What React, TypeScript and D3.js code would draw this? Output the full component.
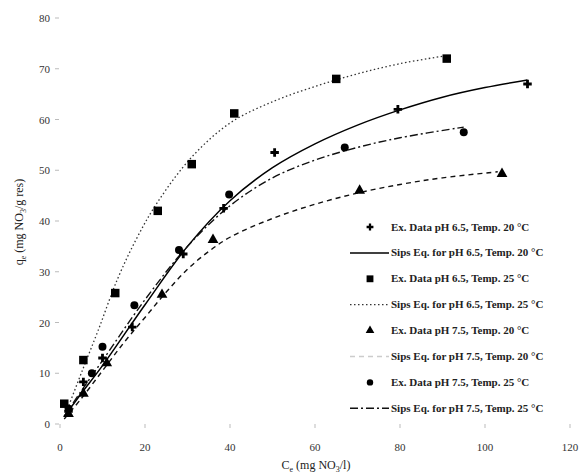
import React, { useEffect, useRef } from 'react';
import * as d3 from 'd3';

const ph65t20X = [2, 5.5, 10, 17, 29, 38.5, 50.5, 79.5, 110];
const ph65t20Y = [2.5, 8.3, 13, 19.1, 33.5, 42.5, 53.5, 62, 67];
const ph65t25X = [1, 5.5, 13, 23, 31, 41, 65, 91];
const ph65t25Y = [4, 12.6, 25.8, 42, 51.2, 61.2, 68, 72];
const ph75t20X = [2, 5.5, 11, 24, 36, 70.5, 104];
const ph75t20Y = [2, 6, 12, 25.5, 36.3, 46, 49.3];
const ph75t25X = [2, 7.5, 10, 17.5, 28, 39.8, 67, 95];
const ph75t25Y = [3, 10, 15.2, 23.4, 34.3, 45.2, 54.5, 57.5];

// Sips fit curves
const fit65t20X = [1, 5, 10, 20, 30, 40, 50, 60, 70, 80, 90, 100, 110];
const fit65t20Y = [1.5, 6, 11.5, 23.5, 35, 44, 50.5, 55.2, 58.9, 61.9, 64.4, 66.3, 67.8];
const fit65t25X = [1, 2, 5, 9, 13.5, 18, 22.8, 31, 40, 50, 60, 70, 80, 91];
const fit65t25Y = [1.5, 3.5, 10, 18.5, 28.5, 36.5, 43.5, 52.6, 59.3, 63.5, 66.5, 69, 71, 72.6];
const fit75t20X = [1, 5, 10, 15, 20, 25, 30, 35, 40, 50, 60, 70, 80, 90, 103];
const fit75t20Y = [1, 5, 10.5, 16, 21, 26, 30.5, 34, 36.8, 40.5, 43.3, 45.5, 47.2, 48.5, 49.7];
const fit75t25X = [1, 5, 10, 20, 30, 40, 50, 60, 70, 80, 95];
const fit75t25Y = [1.5, 6.5, 12.5, 24.5, 35, 43, 48.5, 52, 54.5, 56.4, 58.5];

const xTicks = [0, 20, 40, 60, 80, 100, 120];
const yTicks = [0, 10, 20, 30, 40, 50, 60, 70, 80];

const legendLabels = [
  'Ex. Data pH 6.5, Temp. 20 °C',
  'Sips Eq. for pH 6.5, Temp. 20 °C',
  'Ex. Data pH 6.5, Temp. 25 °C',
  'Sips Eq. for pH 6.5, Temp. 25 °C',
  'Ex. Data pH 7.5, Temp. 20 °C',
  'Sips Eq. for pH 7.5, Temp. 20 °C',
  'Ex. Data pH 7.5, Temp. 25 °C',
  'Sips Eq. for pH 7.5, Temp. 25 °C',
];

const zip = (xs: number[], ys: number[]) => xs.map((x, i) => [x, ys[i]] as [number, number]);

const App = () => {
  const ref = useRef<SVGSVGElement>(null);

  useEffect(() => {
    const width = 582;
    const height = 473;
    const svg = d3.select(ref.current);
    svg.selectAll('*').remove();
    svg.attr('width', width).attr('height', height).style('background', '#fff');

    const x = d3.scaleLinear().domain([0, 120]).range([60, 570]);
    const y = d3.scaleLinear().domain([0, 80]).range([424, 18]);

    const serif = '"Liberation Serif", "DejaVu Serif", serif';

    // tick marks + labels
    const xg = svg.append('g');
    xg.selectAll('line').data(xTicks).enter().append('line')
      .attr('x1', d => x(d)).attr('x2', d => x(d))
      .attr('y1', 424).attr('y2', 428)
      .attr('stroke', '#bbb').attr('stroke-width', 1);
    xg.selectAll('text').data(xTicks).enter().append('text')
      .attr('x', d => x(d)).attr('y', 451)
      .attr('text-anchor', 'middle')
      .style('font-family', serif).style('font-size', '11px').style('fill', '#333')
      .text(d => d);

    const yg = svg.append('g');
    yg.selectAll('line').data(yTicks).enter().append('line')
      .attr('x1', 55).attr('x2', 59)
      .attr('y1', d => y(d)).attr('y2', d => y(d))
      .attr('stroke', '#bbb').attr('stroke-width', 1);
    yg.selectAll('text').data(yTicks).enter().append('text')
      .attr('x', 50).attr('y', d => y(d) + 4)
      .attr('text-anchor', 'end')
      .style('font-family', serif).style('font-size', '11px').style('fill', '#333')
      .text(d => d);

    // axis titles
    const xt = svg.append('text')
      .attr('x', 316).attr('y', 469)
      .attr('text-anchor', 'middle')
      .style('font-family', serif).style('font-size', '12px').style('fill', '#222');
    xt.append('tspan').text('C');
    xt.append('tspan').attr('dy', 3).style('font-size', '8px').text('e');
    xt.append('tspan').attr('dy', -3).text(' (mg NO');
    xt.append('tspan').attr('dy', 3).style('font-size', '8px').text('3');
    xt.append('tspan').attr('dy', -3).text('/l)');

    const yt = svg.append('text')
      .attr('transform', 'translate(23,222) rotate(-90)')
      .attr('text-anchor', 'middle')
      .style('font-family', serif).style('font-size', '12px').style('fill', '#222');
    yt.append('tspan').text('q');
    yt.append('tspan').attr('dy', 3).style('font-size', '8px').text('e');
    yt.append('tspan').attr('dy', -3).text(' (mg NO');
    yt.append('tspan').attr('dy', 3).style('font-size', '8px').text('3');
    yt.append('tspan').attr('dy', -3).text('/g res)');

    const line = d3.line<[number, number]>()
      .x(d => x(d[0])).y(d => y(d[1]))
      .curve(d3.curveCatmullRom.alpha(0.5));

    const fits = [
      { pts: zip(fit65t20X, fit65t20Y), dash: null, color: '#000', w: 1.5 },
      { pts: zip(fit65t25X, fit65t25Y), dash: '1.5,2.5', color: '#333', w: 1.3 },
      { pts: zip(fit75t20X, fit75t20Y), dash: '5,4', color: '#111', w: 1.4 },
      { pts: zip(fit75t25X, fit75t25Y), dash: '8,3,2,3', color: '#111', w: 1.4 },
    ];
    fits.forEach(f => {
      svg.append('path')
        .attr('d', line(f.pts))
        .attr('fill', 'none')
        .attr('stroke', f.color)
        .attr('stroke-width', f.w)
        .attr('stroke-dasharray', f.dash);
    });

    const sets = [
      { pts: zip(ph65t20X, ph65t20Y), sym: d3.symbolCross, size: 40 },
      { pts: zip(ph65t25X, ph65t25Y), sym: d3.symbolSquare, size: 72 },
      { pts: zip(ph75t20X, ph75t20Y), sym: d3.symbolTriangle, size: 50 },
      { pts: zip(ph75t25X, ph75t25Y), sym: d3.symbolCircle, size: 50 },
    ];
    sets.forEach(s => {
      svg.append('g').selectAll('path').data(s.pts).enter().append('path')
        .attr('transform', d => `translate(${x(d[0])},${y(d[1])})`)
        .attr('d', d3.symbol().type(s.sym).size(s.size)())
        .attr('fill', '#000');
    });

    // legend
    const lg = svg.append('g');
    legendLabels.forEach((label, i) => {
      const ly = 227 + i * 25.9;
      if (i % 2 === 0) {
        const s = sets[i / 2];
        lg.append('path')
          .attr('transform', `translate(370,${ly})`)
          .attr('d', d3.symbol().type(s.sym).size(s.size * 0.65)())
          .attr('fill', '#000');
      } else {
        const f = fits[(i - 1) / 2];
        lg.append('line')
          .attr('x1', 350).attr('x2', 389)
          .attr('y1', ly).attr('y2', ly)
          .attr('stroke', i === 5 ? '#ccc' : f.color)
          .attr('stroke-width', f.w)
          .attr('stroke-dasharray', f.dash);
      }
      lg.append('text')
        .attr('x', 391).attr('y', ly + 3.5)
        .style('font-family', serif).style('font-size', '11px')
        .style('font-weight', 'bold').style('fill', '#222')
        .text(label);
    });
  }, []);

  return <svg ref={ref} style={{ position: 'absolute', left: 0, top: 0 }}></svg>;
};

export default App;
